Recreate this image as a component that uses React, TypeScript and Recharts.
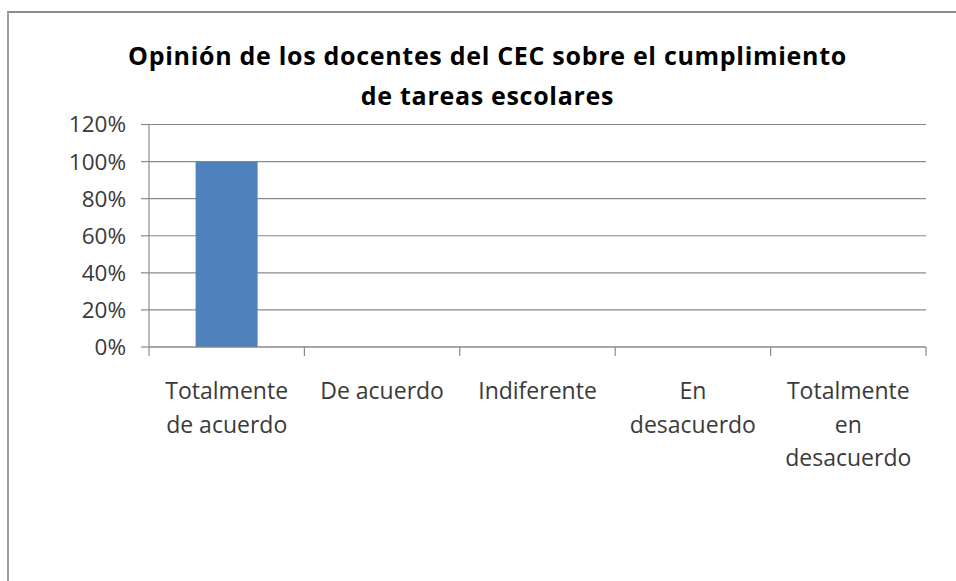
import React from "react";
import { BarChart, Bar, XAxis, YAxis, CartesianGrid } from "recharts";

const titleLines = [
  "Opinión de los docentes del CEC sobre el cumplimiento",
  "de tareas escolares",
];
const categories = [
  "Totalmente\nde acuerdo",
  "De acuerdo",
  "Indiferente",
  "En\ndesacuerdo",
  "Totalmente\nen\ndesacuerdo",
];
const values = [1.0, 0, 0, 0, 0];
const yTicks = [0, 0.2, 0.4, 0.6, 0.8, 1.0, 1.2];

const data = categories.map((c, i) => ({ category: c, value: values[i] }));

const FONT = "'Open Sans', sans-serif";
const AXIS = "#8a8a8a";
const TEXT = "#3a3a3a";

const CatTick = (props: any) => {
  const { x, y, payload, width, index, visibleTicksCount } = props;
  const lines = String(payload.value).split("\n");
  const n = visibleTicksCount || categories.length;
  const band = width / n;
  const left = x - band / 2;
  const right = x + band / 2;
  return (
    <g>
      <line x1={left} x2={left} y1={y} y2={y + 9} stroke={AXIS} strokeWidth={1.2} />
      {index === n - 1 && (
        <line x1={right} x2={right} y1={y} y2={y + 9} stroke={AXIS} strokeWidth={1.2} />
      )}
      {lines.map((ln: string, i: number) => (
        <text
          key={i}
          x={x}
          y={y + 46 + i * 33.5}
          textAnchor="middle"
          dominantBaseline="middle"
          fill={TEXT}
          fontSize={23}
          fontFamily={FONT}
        >
          {ln}
        </text>
      ))}
    </g>
  );
};

export default function App() {
  return (
    <div
      style={{
        position: "absolute",
        left: 0,
        top: 0,
        width: 956,
        height: 581,
        background: "#fff",
        fontFamily: FONT,
        overflow: "hidden",
      }}
    >
      <div
        style={{
          position: "absolute",
          left: 7,
          top: 11,
          width: 949,
          height: 570,
          borderTop: "2px solid #8c8c8c",
          borderLeft: "2px solid #a0a0a0",
        }}
      />
      {titleLines.map((t, i) => (
        <div
          key={i}
          style={{
            position: "absolute",
            left: 0,
            width: 975,
            top: 55 + i * 40 - 20,
            height: 40,
            lineHeight: "40px",
            textAlign: "center",
            fontWeight: 700,
            fontSize: 25,
            letterSpacing: 0.7,
            color: "#000",
          }}
        >
          {t}
        </div>
      ))}
      <div style={{ position: "absolute", left: 0, top: 0 }}>
        <BarChart
          width={956}
          height={581}
          data={data}
          margin={{ top: 124.5, right: 30, bottom: 0, left: 0 }}
          barCategoryGap="30%"
        >
          <CartesianGrid
            horizontal={true}
            vertical={false}
            stroke={AXIS}
            strokeWidth={1.2}
          />
          <XAxis
            dataKey="category"
            axisLine={{ stroke: AXIS, strokeWidth: 1.2 }}
            tickLine={false}
            tickSize={0}
            tickMargin={0}
            height={234}
            interval={0}
            tick={<CatTick />}
          />
          <YAxis
            width={149}
            domain={[0, 1.2]}
            ticks={yTicks}
            tickSize={8}
            tickMargin={15}
            stroke={AXIS}
            strokeWidth={1.2}
            tick={{ fill: TEXT, fontSize: 22.5, fontFamily: FONT }}
            tickFormatter={(v: number) => `${Math.round(v * 100)}%`}
          />
          <Bar dataKey="value" fill="#4f81bd" isAnimationActive={false} />
        </BarChart>
      </div>
    </div>
  );
}
